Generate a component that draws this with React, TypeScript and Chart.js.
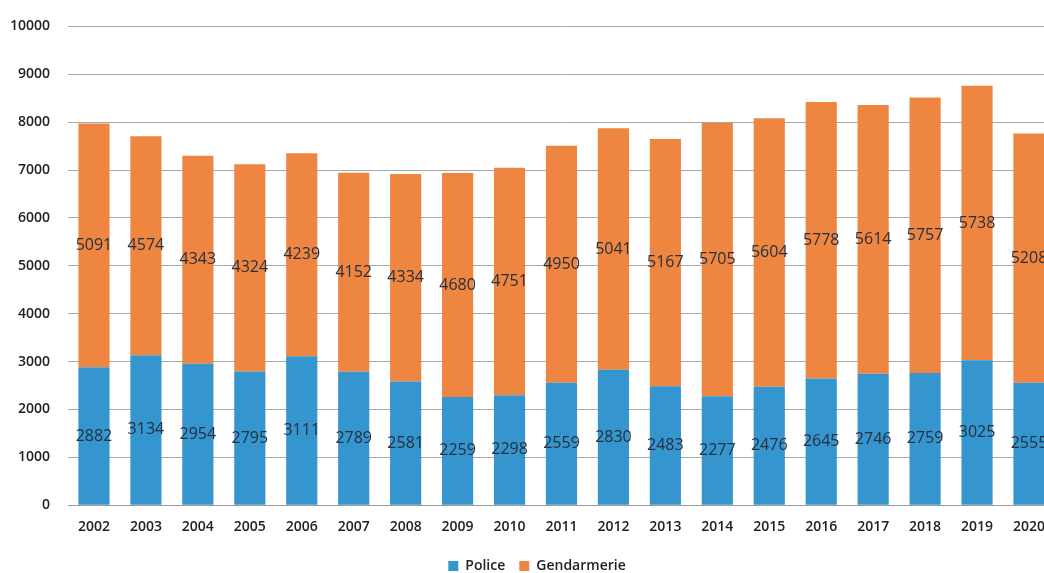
import React, { useEffect, useRef } from "react";
import { Chart, registerables } from "chart.js";

Chart.register(...registerables);

const years = ["2002","2003","2004","2005","2006","2007","2008","2009","2010","2011","2012","2013","2014","2015","2016","2017","2018","2019","2020"];
const police = [2882, 3134, 2954, 2795, 3111, 2789, 2581, 2259, 2298, 2559, 2830, 2483, 2277, 2476, 2645, 2746, 2759, 3025, 2555];
const gendarmerie = [5091, 4574, 4343, 4324, 4239, 4152, 4334, 4680, 4751, 4950, 5041, 5167, 5705, 5604, 5778, 5614, 5757, 5738, 5208];
const yTicks = [0, 1000, 2000, 3000, 4000, 5000, 6000, 7000, 8000, 9000, 10000];

const BLUE = "#3595cf";
const ORANGE = "#ee8642";

const valueLabels = {
  id: "valueLabels",
  afterDatasetsDraw(chart: any) {
    const ctx = chart.ctx;
    ctx.save();
    ctx.font = "16px 'Open Sans'";
    ctx.fillStyle = "#25303c";
    ctx.textAlign = "center";
    ctx.textBaseline = "middle";
    chart.data.datasets.forEach((ds: any, di: number) => {
      const meta = chart.getDatasetMeta(di);
      meta.data.forEach((el: any, i: number) => {
        const y = (el.y + el.base) / 2;
        ctx.fillText(String(ds.data[i]), el.x, y);
      });
    });
    ctx.restore();
  },
};

const legendShift = {
  id: "legendShift",
  afterLayout(chart: any) {
    const lg = chart.legend;
    if (lg) {
      lg.left += 8;
      lg.right += 8;
      lg.top += 12;
      lg.bottom += 12;
    }
  },
};

export default function App() {
  const ref = useRef<HTMLCanvasElement>(null);
  useEffect(() => {
    if (!ref.current) return;
    const chart = new Chart(ref.current, {
      type: "bar",
      data: {
        labels: years,
        datasets: [
          { label: "Police", data: police, backgroundColor: BLUE, borderWidth: 0, barPercentage: 0.75, categoryPercentage: 0.8 },
          { label: "Gendarmerie", data: gendarmerie, backgroundColor: ORANGE, borderWidth: 0, barPercentage: 0.75, categoryPercentage: 0.8 },
        ],
      },
      options: {
        animation: false,
        responsive: false,
        layout: { padding: { top: 20, bottom: 2 } },
        plugins: {
          tooltip: { enabled: false },
          legend: {
            position: "bottom",
            labels: {
              boxWidth: 10,
              boxHeight: 10,
              padding: 14,
              color: "#222",
              font: { family: "'Open Sans'", size: 14, weight: "600" },
            },
          },
        },
        scales: {
          x: {
            stacked: true,
            afterFit: (axis: any) => { axis.height -= 15; },
            grid: { display: false, drawTicks: false },
            border: { display: true, color: "#9a9a9a" },
            ticks: {
              padding: 13,
              color: "#222",
              font: { family: "'Open Sans'", size: 14, weight: "600" },
            },
          },
          y: {
            stacked: true,
            min: 0,
            max: 10000,
            afterFit: (axis: any) => { axis.width = 68; },
            afterBuildTicks: (axis: any) => { axis.ticks = yTicks.map((v) => ({ value: v })); },
            grid: { color: "#a8a8a8", drawTicks: false },
            border: { display: false },
            ticks: {
              padding: 18,
              color: "#222",
              font: { family: "'Open Sans'", size: 14, weight: "600" },
              callback: (v: any) => String(v),
            },
          },
        },
      },
      plugins: [valueLabels, legendShift],
    });
    return () => chart.destroy();
  }, []);
  return (
    <div style={{ position: "fixed", left: 0, top: 0, width: 1044, height: 573, overflow: "hidden", background: "#fff" }}>
      <canvas ref={ref} width={1058} height={573} style={{ display: "block" }} />
    </div>
  );
}
